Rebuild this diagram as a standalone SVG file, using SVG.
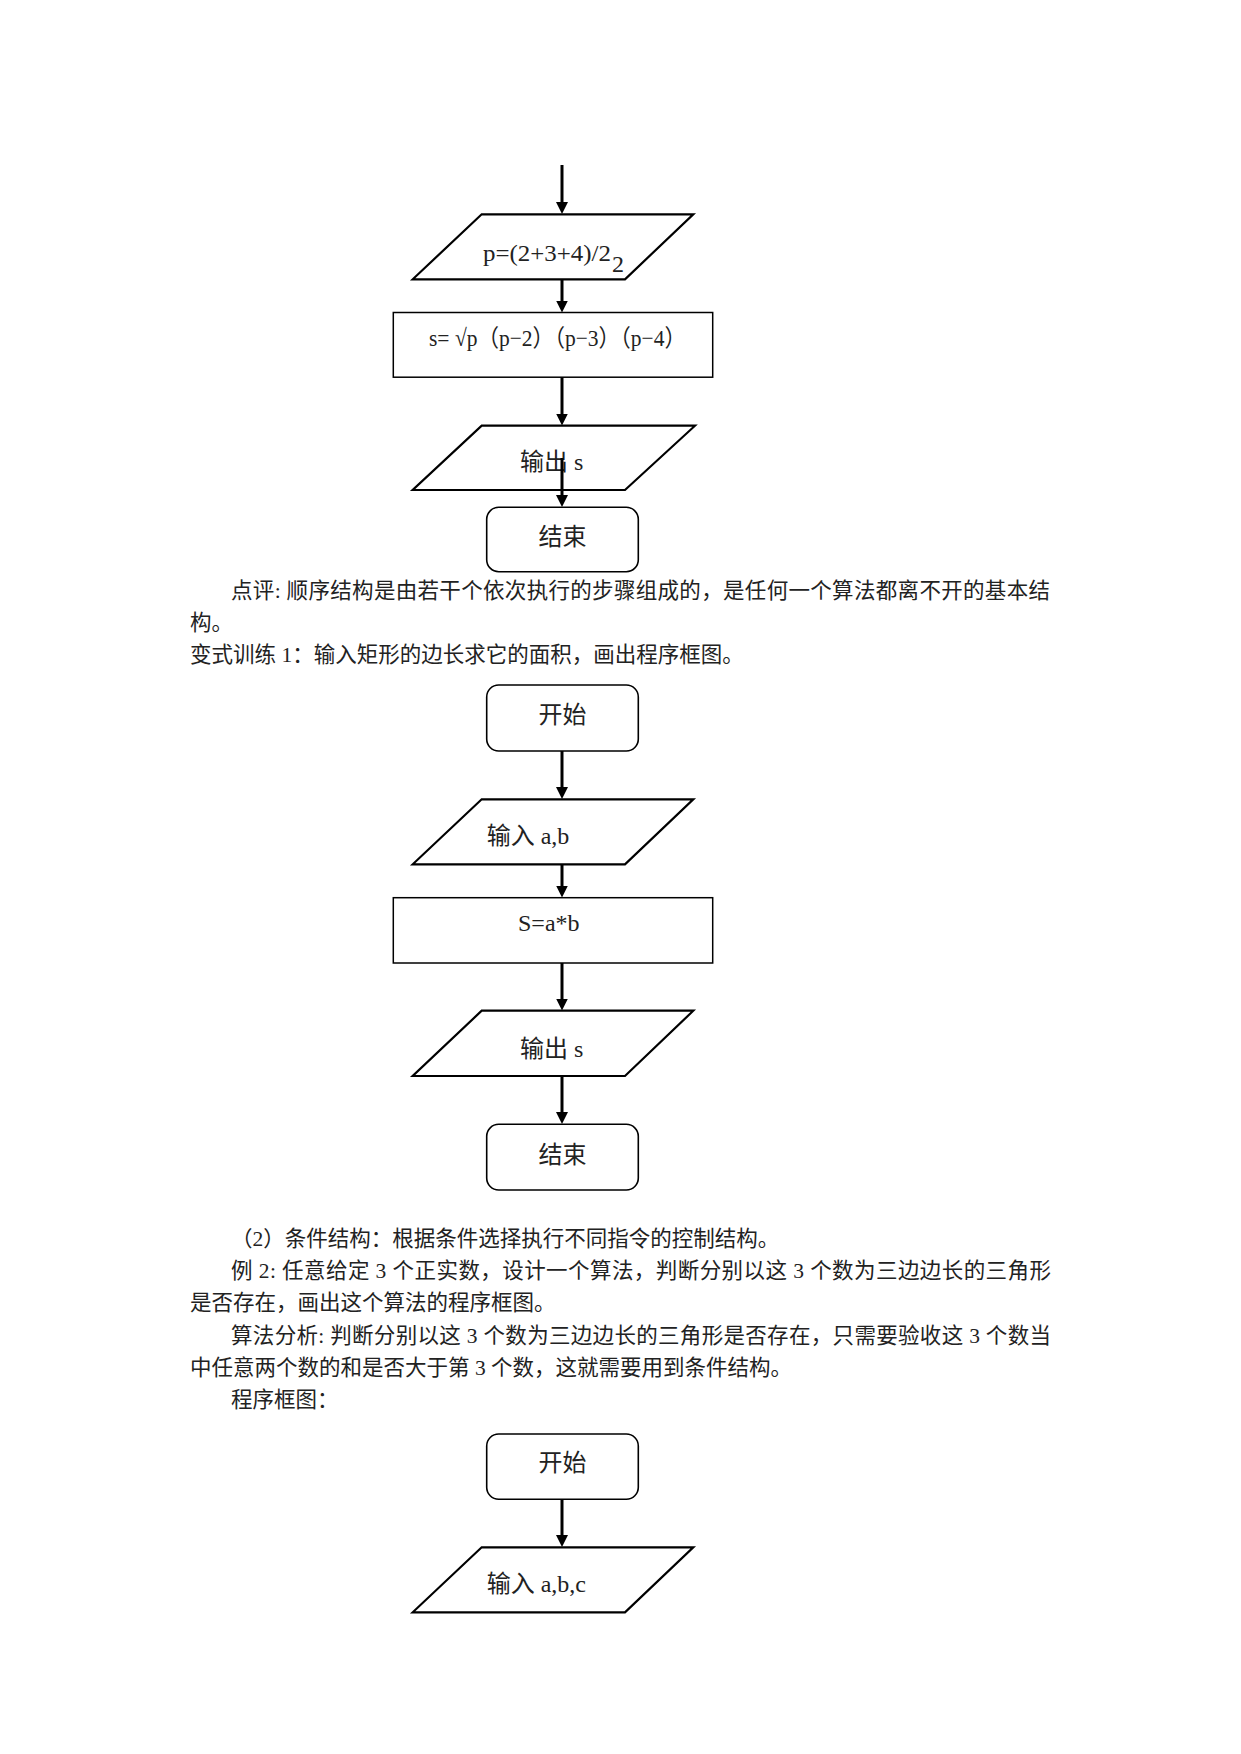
<svg xmlns="http://www.w3.org/2000/svg" width="1241" height="1754" viewBox="0 0 1241 1754">
<style>
.para{fill:#fff;stroke:#000;stroke-width:2.2;stroke-linejoin:miter}
.proc{fill:#fff;stroke:#000;stroke-width:1.5}
.term{fill:#fff;stroke:#000;stroke-width:1.6}
.lbl{font-family:'Liberation Serif','Noto Sans CJK SC',serif;font-size:24px;fill:#222}
.body{font-family:'Liberation Serif','Noto Sans CJK SC',serif;font-size:21.5px;fill:#222}
.conn{stroke:#000;stroke-width:3;fill:none;marker-end:url(#arr)}
</style>
<defs>
<marker id="arr" markerUnits="userSpaceOnUse" markerWidth="14" markerHeight="13" refX="2" refY="6.5" orient="auto">
<path d="M0,0.5 L12,6.5 L0,12.5 Z" fill="#000"/>
</marker>
</defs>
<rect width="1241" height="1754" fill="#fff"/>

<g id="flow1">
<g id="f1_calc_p">
<polygon class="para" points="481.7,214.3 693.3,214.3 625,279.3 412.7,279.3"/>
<text class="lbl" x="483" y="261" font-size="23" textLength="128" lengthAdjust="spacingAndGlyphs">p=(2+3+4)/2</text>
<text class="lbl" x="612" y="272" font-size="19" fill="#444">2</text>
</g>
<g id="f1_calc_s">
<rect class="proc" x="393.3" y="312.5" width="319.4" height="64.7"/>
<text class="lbl" x="429" y="346" font-size="20" textLength="257" lengthAdjust="spacingAndGlyphs">s= √p（p−2）（p−3）（p−4）</text>
</g>
<g id="f1_out">
<polygon class="para" points="481.7,425.7 695,425.7 625,490 412.7,490"/>
<text class="lbl" x="520" y="470">输出 s</text>
</g>
<g id="f1_end">
<rect class="term" x="486.7" y="507.3" width="151.6" height="64.4" rx="12" ry="12"/>
<text class="lbl" x="562.5" y="544.5" text-anchor="middle">结束</text>
</g>
</g>

<g id="flow2">
<g id="f2_start">
<rect class="term" x="486.7" y="685" width="151.6" height="66" rx="12" ry="12"/>
<text class="lbl" x="562.5" y="723" text-anchor="middle">开始</text>
</g>
<g id="f2_in">
<polygon class="para" points="481.7,799.3 693.3,799.3 625,864.3 412.7,864.3"/>
<text class="lbl" x="486.7" y="843.5">输入 a,b</text>
</g>
<g id="f2_calc">
<rect class="proc" x="393.3" y="897.7" width="319.4" height="65.3"/>
<text class="lbl" x="518" y="931">S=a*b</text>
</g>
<g id="f2_out">
<polygon class="para" points="481.7,1010.7 693.3,1010.7 625,1076 412.7,1076"/>
<text class="lbl" x="520" y="1056.5">输出 s</text>
</g>
<g id="f2_end">
<rect class="term" x="486.7" y="1124.3" width="151.6" height="65.7" rx="12" ry="12"/>
<text class="lbl" x="562.5" y="1163" text-anchor="middle">结束</text>
</g>
</g>

<g id="flow3">
<g id="f3_start">
<rect class="term" x="486.7" y="1434" width="151.6" height="65.3" rx="12" ry="12"/>
<text class="lbl" x="562.5" y="1470.5" text-anchor="middle">开始</text>
</g>
<g id="f3_in">
<polygon class="para" points="481.7,1547.3 693.3,1547.3 625,1612.3 412.7,1612.3"/>
<text class="lbl" x="486.7" y="1591.5">输入 a,b,c</text>
</g>
</g>

<g id="connectors">
<line class="conn" x1="562" y1="165" x2="562" y2="204"/>
<line class="conn" x1="562" y1="279.3" x2="562" y2="302.5"/>
<line class="conn" x1="562" y1="377.2" x2="562" y2="415.5"/>
<line class="conn" x1="562" y1="458" x2="562" y2="497"/>
<line class="conn" x1="562" y1="751" x2="562" y2="789"/>
<line class="conn" x1="562" y1="864.3" x2="562" y2="887.5"/>
<line class="conn" x1="562" y1="963" x2="562" y2="1000.5"/>
<line class="conn" x1="562" y1="1076" x2="562" y2="1114"/>
<line class="conn" x1="562" y1="1499.3" x2="562" y2="1537"/>
</g>

<g id="text">
<text class="body" x="231" y="598" textLength="819" lengthAdjust="spacing">点评: 顺序结构是由若干个依次执行的步骤组成的，是任何一个算法都离不开的基本结</text>
<text class="body" x="190" y="630">构。</text>
<text class="body" x="190" y="662">变式训练 1：输入矩形的边长求它的面积，画出程序框图。</text>
<text class="body" x="231" y="1246">（2）条件结构：根据条件选择执行不同指令的控制结构。</text>
<text class="body" x="231" y="1278" textLength="820" lengthAdjust="spacing">例 2: 任意给定 3 个正实数，设计一个算法，判断分别以这 3 个数为三边边长的三角形</text>
<text class="body" x="190" y="1310">是否存在，画出这个算法的程序框图。</text>
<text class="body" x="231" y="1343" textLength="820" lengthAdjust="spacing">算法分析: 判断分别以这 3 个数为三边边长的三角形是否存在，只需要验收这 3 个数当</text>
<text class="body" x="190" y="1375">中任意两个数的和是否大于第 3 个数，这就需要用到条件结构。</text>
<text class="body" x="231" y="1407">程序框图：</text>
</g>
</svg>
